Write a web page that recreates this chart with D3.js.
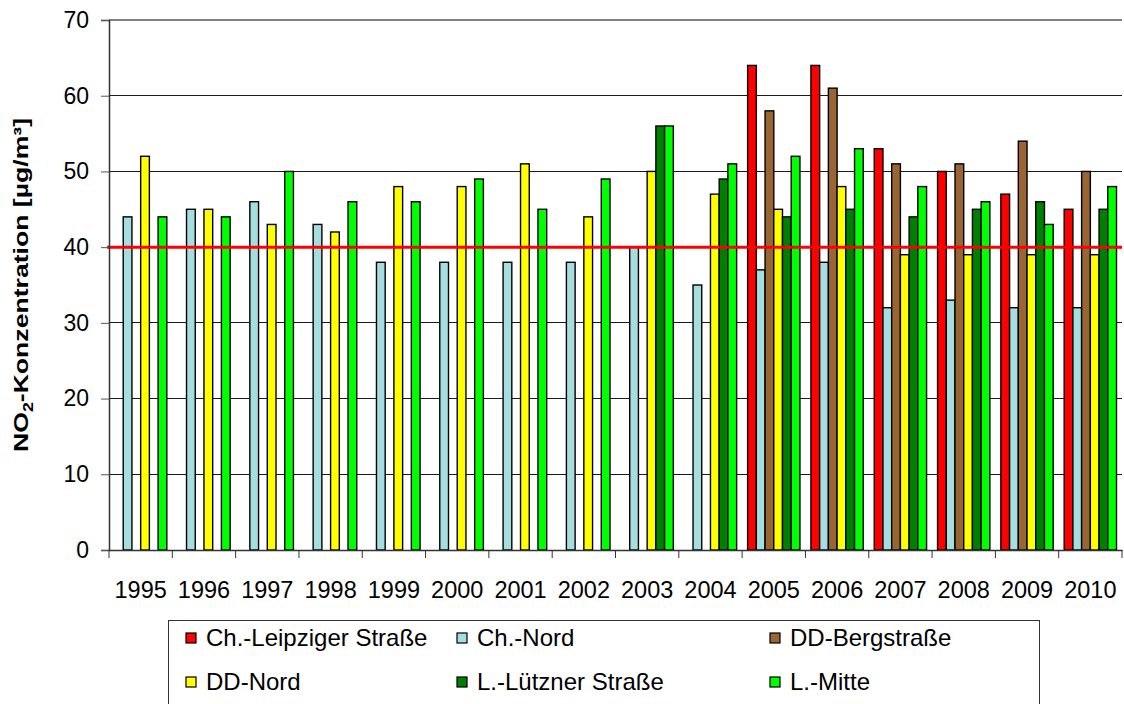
<!DOCTYPE html>
<html>
<head>
<meta charset="utf-8">
<script src="https://cdn.jsdelivr.net/npm/d3@7"></script>
<style>
  body { margin: 0; background: #fff; }
  text { font-family: "Liberation Sans", Arial, sans-serif; fill: #000; }
</style>
</head>
<body>
<svg width="1124" height="704"></svg>
<script>
// Data
let years = ["1995", "1996", "1997", "1998", "1999", "2000", "2001", "2002",
             "2003", "2004", "2005", "2006", "2007", "2008", "2009", "2010"];
let seriesNames = ["Ch.-Leipziger Straße", "Ch.-Nord", "DD-Bergstraße",
                   "DD-Nord", "L.-Lützner Straße", "L.-Mitte"];
let seriesColors = ["#FF0000", "#A6DEE0", "#996633", "#FFFF00", "#008000", "#00FF00"];

let chLeipziger = [null, null, null, null, null, null, null, null, null, null, 64, 64, 53, 50, 47, 45];
let chNord      = [44, 45, 46, 43, 38, 38, 38, 38, 40, 35, 37, 38, 32, 33, 32, 32];
let ddBerg      = [null, null, null, null, null, null, null, null, null, null, 58, 61, 51, 51, 54, 50];
let ddNord      = [52, 45, 43, 42, 48, 48, 51, 44, 50, 47, 45, 48, 39, 39, 39, 39];
let lLuetzner   = [null, null, null, null, null, null, null, null, 56, 49, 44, 45, 44, 45, 46, 45];
let lMitte      = [44, 44, 50, 46, 46, 49, 45, 49, 56, 51, 52, 53, 48, 46, 43, 48];
let seriesValues = [chLeipziger, chNord, ddBerg, ddNord, lLuetzner, lMitte];

let yTicks = [0, 10, 20, 30, 40, 50, 60, 70];
let limitValue = 40;

// The svg
let svg = d3.select("svg");
let margin = { top: 20, right: 2, bottom: 154, left: 109 };
let plotRight = +svg.attr("width") - margin.right;
let plotBottom = +svg.attr("height") - margin.bottom;

let x0 = d3.scaleBand().domain(years).range([margin.left, plotRight]);
let x1 = d3.scaleBand().domain(d3.range(seriesNames.length))
  .range([0, x0.bandwidth()]).paddingOuter(0.63);
let y = d3.scaleLinear().domain([0, 70]).range([plotBottom, margin.top]);

// Gridlines
svg.append("g")
  .selectAll("line")
  .data(yTicks.filter(d => d > 0))
  .enter()
  .append("line")
  .attr("x1", margin.left)
  .attr("x2", plotRight)
  .attr("y1", d => y(d))
  .attr("y2", d => y(d))
  .attr("stroke", d => d === 70 ? "#808080" : "#1a1a1a")
  .attr("stroke-width", d => d === 70 ? 1.5 : 1)
  .attr("shape-rendering", "crispEdges");

// Bars
let table = [];
years.forEach((yr, i) => {
  seriesValues.forEach((vals, s) => {
    if (vals[i] != null) table.push({ year: yr, s: s, value: vals[i] });
  });
});

svg.append("g")
  .selectAll("rect")
  .data(table)
  .enter()
  .append("rect")
  .attr("x", d => x0(d.year) + x1(d.s))
  .attr("y", d => y(d.value))
  .attr("width", x1.bandwidth())
  .attr("height", d => plotBottom - y(d.value))
  .attr("fill", d => seriesColors[d.s])
  .attr("stroke", "#000")
  .attr("stroke-width", 1.4);

// Limit line
svg.append("line")
  .attr("x1", margin.left - 2)
  .attr("x2", plotRight)
  .attr("y1", y(limitValue))
  .attr("y2", y(limitValue))
  .attr("stroke", "#FF0000")
  .attr("stroke-width", 3);

// Y axis
let yAxis = svg.append("g")
  .attr("transform", "translate(" + margin.left + ",0)")
  .call(d3.axisLeft(y).tickValues(yTicks).tickSize(8).tickPadding(12));
yAxis.select(".domain").attr("stroke", "#333").attr("stroke-width", 1.5);
yAxis.selectAll(".tick line").attr("stroke", "#555");
yAxis.selectAll(".tick text")
  .style("font-family", "Liberation Sans, Arial, sans-serif")
  .style("font-size", "23px")
  .attr("fill", "#000");

// X axis
let xAxis = svg.append("g")
  .attr("transform", "translate(0," + plotBottom + ")")
  .call(d3.axisBottom(x0).tickSize(0).tickPadding(31));
xAxis.select(".domain").attr("stroke", "#333").attr("stroke-width", 1.5);
xAxis.selectAll(".tick text")
  .style("font-family", "Liberation Sans, Arial, sans-serif")
  .style("font-size", "23.5px")
  .attr("fill", "#000");

// category boundary ticks
svg.append("g")
  .selectAll("line")
  .data(years.concat(["end"]))
  .enter()
  .append("line")
  .attr("x1", d => d === "end" ? plotRight : x0(d))
  .attr("x2", d => d === "end" ? plotRight : x0(d))
  .attr("y1", plotBottom)
  .attr("y2", plotBottom + 8)
  .attr("stroke", "#333");

// Y axis title
let yTitle = svg.append("text")
  .attr("transform", "translate(28," + (margin.top + (plotBottom - margin.top) / 2) + ") rotate(-90)")
  .attr("text-anchor", "middle")
  .attr("textLength", 334)
  .attr("lengthAdjust", "spacingAndGlyphs")
  .style("font-size", "21px")
  .style("font-weight", "bold");
yTitle.append("tspan").text("NO");
yTitle.append("tspan").text("2").style("font-size", "14px").attr("dy", 5);
yTitle.append("tspan").text("-Konzentration [µg/m³]").attr("dy", -5);

// Legend
svg.append("rect")
  .attr("x", 168.5)
  .attr("y", 620.5)
  .attr("width", 871)
  .attr("height", 100)
  .attr("fill", "none")
  .attr("stroke", "#333");

let legendCols = [186, 457, 770];
let legendRows = [637, 681];

let legend = svg.append("g")
  .selectAll("g")
  .data(seriesNames)
  .enter()
  .append("g")
  .attr("transform", (d, i) => "translate(" + legendCols[i % 3] + "," + legendRows[Math.floor(i / 3)] + ")");

legend.append("rect")
  .attr("x", 0)
  .attr("y", -4)
  .attr("width", 10)
  .attr("height", 10)
  .attr("fill", (d, i) => seriesColors[i])
  .attr("stroke", "#000")
  .attr("stroke-width", 1.2);

legend.append("text")
  .attr("x", 20)
  .attr("y", 9)
  .style("font-size", "24px")
  .text(d => d);
</script>
</body>
</html>
